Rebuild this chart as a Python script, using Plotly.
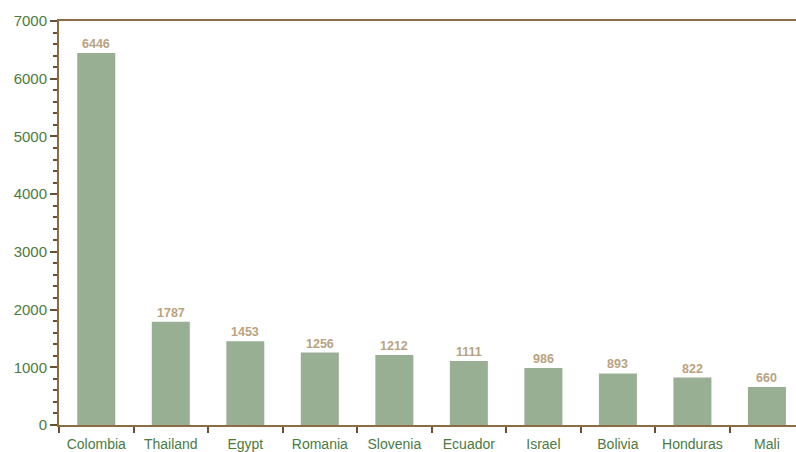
import plotly.graph_objects as go

countries = ["Colombia", "Thailand", "Egypt", "Romania", "Slovenia", "Ecuador", "Israel", "Bolivia", "Honduras", "Mali"]
values = [6446, 1787, 1453, 1256, 1212, 1111, 986, 893, 822, 660]
y_ticks = [0, 1000, 2000, 3000, 4000, 5000, 6000, 7000]

axis_col = "#8a6d45"
label_col = "#4c7a3f"
bar_col = "#99af94"
value_col = "#b9a27f"
font_fam = "Liberation Sans, Arial, sans-serif"

fig = go.Figure(go.Bar(
    x=countries, y=values,
    marker=dict(color=bar_col, line=dict(width=0)),
    hoverinfo="skip",
))

for c, v in zip(countries, values):
    fig.add_annotation(
        x=c, y=v, text=str(v), showarrow=False, yanchor="bottom", yshift=0,
        font=dict(family=font_fam, size=12.5, color=value_col, weight="bold"),
    )

fig.update_layout(
    width=796, height=452,
    margin=dict(l=59, r=0, t=21, b=27),
    plot_bgcolor="white", paper_bgcolor="white",
    bargap=0.49, showlegend=False,
    font=dict(family=font_fam, size=14, color=label_col),
)
fig.update_xaxes(
    range=[-0.5, 9.39], showline=True, linecolor=axis_col, linewidth=2, mirror=True,
    ticks="outside", tickson="boundaries", ticklen=6, tickcolor="#6b5030", tickwidth=1.5,
    tickfont=dict(family=font_fam, size=14, color=label_col), showgrid=False,
    tickangle=0, automargin=False, ticklabelstandoff=5,
)
fig.update_yaxes(
    range=[0, 7000], tickvals=y_ticks, showline=True, linecolor=axis_col, linewidth=2,
    ticks="outside", ticklen=7, tickcolor="#6b5030", tickwidth=1.5,
    minor=dict(dtick=200, ticks="outside", ticklen=4, tickcolor="#6b5030", tickwidth=1.5),
    tickfont=dict(family=font_fam, size=15, color=label_col), showgrid=False, zeroline=False,
    ticklabelstandoff=0, automargin=False,
)

fig.write_html("out.html", config={"displayModeBar": False},
               post_script="document.body.style.margin='0';document.body.style.overflow='hidden';")
